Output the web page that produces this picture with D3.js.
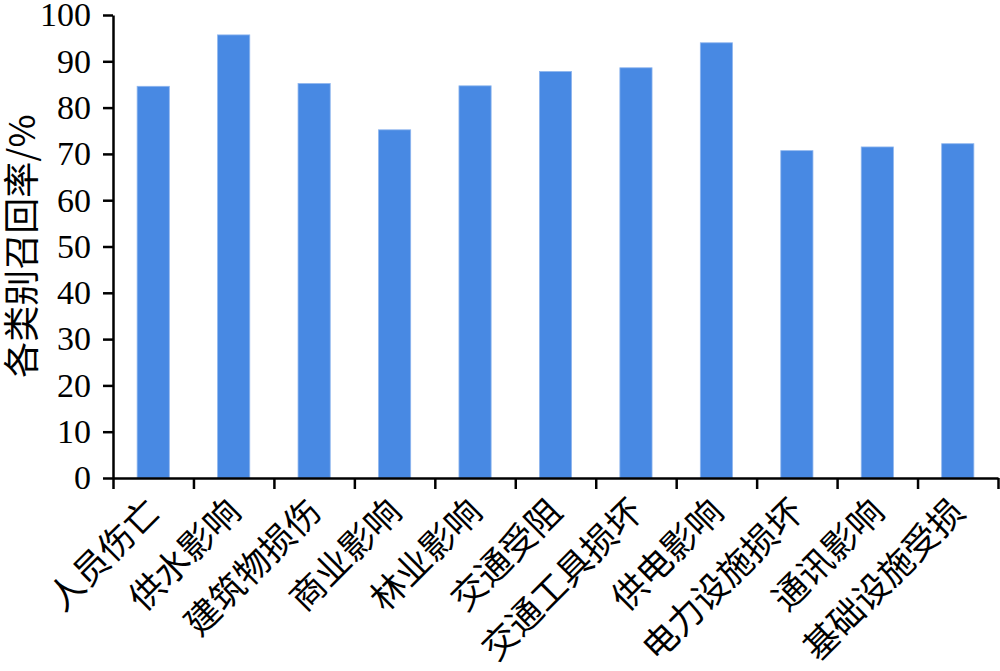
<!DOCTYPE html>
<html>
<head>
<meta charset="utf-8">
<script src="https://cdn.jsdelivr.net/npm/d3@7"></script>
<style>
  html, body { margin: 0; padding: 0; background: #fff; }
  svg { display: block; }
</style>
</head>
<body>
<svg id="chart" width="1000" height="671"></svg>
<script>
const categories = ["人员伤亡", "供水影响", "建筑物损伤", "商业影响", "林业影响", "交通受阻",
  "交通工具损坏", "供电影响", "电力设施损坏", "通讯影响", "基础设施受损"];
const recallValues = [84.6, 95.7, 85.2, 75.2, 84.7, 87.8, 88.6, 94.0, 70.7, 71.5, 72.2];
const yTicks = [0, 10, 20, 30, 40, 50, 60, 70, 80, 90, 100];
const yTitle = "各类别召回率/%";

const svg = d3.select("#chart");
const margin = { top: 15, right: 2, bottom: 193, left: 113 };
const W = 1000 - margin.left - margin.right;
const H = 671 - margin.top - margin.bottom;
const g = svg.append("g").attr("transform", `translate(${margin.left},${margin.top})`);

const x = d3.scaleBand().domain(categories).range([0, W]).paddingInner(0.6).paddingOuter(0.3);
const xSlots = d3.scaleLinear().domain([0, categories.length]).range([0, W]);
const y = d3.scaleLinear().domain([0, 100]).range([H, 0]);

const serif = "'Liberation Serif', 'DejaVu Serif', serif";
const cjk = "'Noto Sans CJK SC', sans-serif";

// bars
g.selectAll("rect.bar").data(categories).enter().append("rect")
  .attr("class", "bar")
  .attr("x", d => x(d))
  .attr("width", x.bandwidth())
  .attr("y", (d, i) => y(recallValues[i]))
  .attr("height", (d, i) => H - y(recallValues[i]))
  .attr("fill", "#4889e3")
  .attr("stroke", "#8fb6ee")
  .attr("stroke-width", 0.8);

// y axis
const yAxis = g.append("g").call(d3.axisLeft(y).tickValues(yTicks).tickSize(10).tickSizeOuter(0).tickPadding(12));
yAxis.select(".domain").attr("stroke", "#000").attr("stroke-width", 2.5);
yAxis.selectAll(".tick line").attr("stroke", "#000").attr("stroke-width", 2.5);
yAxis.selectAll(".tick text").attr("font-family", serif).attr("font-size", 34).attr("fill", "#000");

// x axis with ticks at category boundaries
const xAxis = g.append("g").attr("transform", `translate(0,${H})`)
  .call(d3.axisBottom(xSlots).tickValues(d3.range(0, categories.length + 1)).tickSize(11).tickSizeOuter(0).tickFormat(""));
xAxis.select(".domain").attr("stroke", "#000").attr("stroke-width", 2.5);
xAxis.selectAll(".tick line").attr("stroke", "#000").attr("stroke-width", 2.5);

// x labels
g.append("g").selectAll("text").data(categories).enter().append("text")
  .attr("transform", d => `translate(${x(d) + x.bandwidth() / 2 + 9},${H + 36}) rotate(-45)`)
  .attr("text-anchor", "end")
  .attr("font-family", cjk)
  .attr("font-size", 35)
  .attr("fill", "#000")
  .text(d => d);

// y title
svg.append("text")
  .attr("transform", `translate(35,246) rotate(-90)`)
  .attr("text-anchor", "middle")
  .attr("font-family", cjk)
  .attr("font-size", 36)
  .attr("fill", "#000")
  .text(yTitle);
</script>
</body>
</html>
